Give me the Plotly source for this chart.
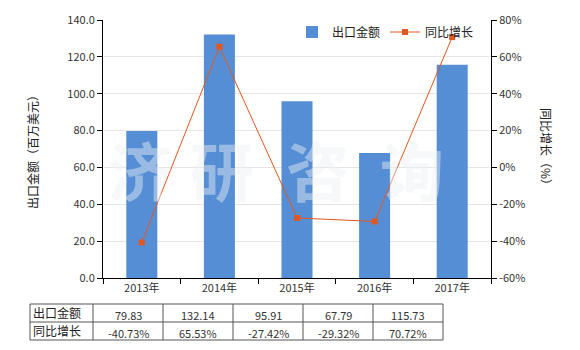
import plotly.graph_objects as go

years = ["2013年", "2014年", "2015年", "2016年", "2017年"]
export_value = [79.83, 132.14, 95.91, 67.79, 115.73]
yoy_growth = [-40.73, 65.53, -27.42, -29.32, 70.72]
row_labels = ["出口金额", "同比增长"]
left_ticks = [0, 20, 40, 60, 80, 100, 120, 140]
right_ticks = [-60, -40, -20, 0, 20, 40, 60, 80]

W, H = 580, 350
L, R, T, B = 103, 491, 20, 278
FONT = "Noto Sans CJK SC, Microsoft YaHei, sans-serif"

def px(x):
    return (x - L) / (R - L)

def py(y):
    return (B - y) / (B - T)

fig = go.Figure()
fig.add_trace(go.Bar(x=years, y=export_value, name="出口金额",
                     marker=dict(color="#558ED5", line=dict(width=0)),
                     width=0.4, yaxis="y"))
fig.add_trace(go.Scatter(x=years, y=yoy_growth, name="同比增长", mode="lines+markers",
                         line=dict(color="#E2571E", width=1),
                         marker=dict(symbol="square", size=6, color="#E2571E"),
                         yaxis="y2"))

fig.update_layout(
    width=W, height=H,
    margin=dict(l=L, r=W - R, t=T, b=H - B),
    paper_bgcolor="white", plot_bgcolor="white",
    font=dict(family=FONT, size=11, color="#333333"),
    showlegend=True,
    legend=dict(orientation="h", x=px(292), y=py(32), xanchor="left", yanchor="middle",
                bgcolor="rgba(0,0,0,0)", font=dict(size=12, color="#222222"),
                itemwidth=30, traceorder="normal"),
    xaxis=dict(type="category", showline=True, linecolor="black", linewidth=1,
               ticks="outside", tickson="boundaries", ticklen=5, tickcolor="black",
               showgrid=False, tickfont=dict(size=11, color="#333333")),
    yaxis=dict(range=[0, 140], tickvals=left_ticks,
               ticktext=[f"{v:.1f}" for v in left_ticks],
               showline=True, linecolor="black", linewidth=1,
               ticks="outside", ticklen=5, tickcolor="black",
               showgrid=True, gridcolor="#E5E5E5", gridwidth=1, zeroline=False,
               tickfont=dict(size=11, color="#333333")),
    yaxis2=dict(range=[-60, 80], tickvals=right_ticks,
                ticktext=[f"{v}%" for v in right_ticks],
                overlaying="y", side="right",
                showline=True, linecolor="black", linewidth=1,
                ticks="outside", ticklen=5, tickcolor="black",
                showgrid=False, zeroline=False,
                tickfont=dict(size=11, color="#333333")),
)

ann = []
# axis titles
ann.append(dict(text="出口金额（百万美元）", x=px(32), y=py(149), xref="paper", yref="paper",
                xanchor="center", yanchor="middle",
                showarrow=False, textangle=-90, font=dict(size=12, color="#222222")))
ann.append(dict(text="同比增长（%）", x=px(547), y=py(149), xref="paper", yref="paper",
                xanchor="center", yanchor="middle",
                showarrow=False, textangle=90, font=dict(size=12, color="#222222")))

# watermark
for ch, cx in zip("济研咨询", [140, 222, 318, 412]):
    ann.append(dict(text="<b>" + ch + "</b>", x=px(cx), y=py(168), xref="paper", yref="paper",
                    xanchor="center", yanchor="middle",
                    showarrow=False, font=dict(size=64, color="rgba(238,240,242,0.45)",
                                                family=FONT)))

# table
tbl_left, tbl_cols, tbl_right = 30, [93, 163, 233, 303, 373], 443
ty0, ty1, ty2 = 304, 322, 340
shapes = []
line_style = dict(color="#555555", width=1)
for yy in (ty0, ty1, ty2):
    shapes.append(dict(type="line", xref="paper", yref="paper",
                       x0=px(tbl_left), x1=px(tbl_right), y0=py(yy), y1=py(yy), line=line_style))
for xx in [tbl_left] + tbl_cols + [tbl_right]:
    shapes.append(dict(type="line", xref="paper", yref="paper",
                       x0=px(xx), x1=px(xx), y0=py(ty0), y1=py(ty2), line=line_style))

rows = [[f"{v:.2f}" for v in export_value], [f"{v:.2f}%" for v in yoy_growth]]
row_centers = [(ty0 + ty1) / 2 + 2, (ty1 + ty2) / 2 + 2]
col_edges = tbl_cols + [tbl_right]
for r, (lab, vals) in enumerate(zip(row_labels, rows)):
    ann.append(dict(text=lab, x=px(tbl_left + 1), y=py(row_centers[r] - 3), xref="paper", yref="paper",
                    xanchor="left", yanchor="middle",
                    showarrow=False, font=dict(size=12, color="#222222")))
    for i, v in enumerate(vals):
        cx = (col_edges[i] + col_edges[i + 1]) / 2
        ann.append(dict(text=v, x=px(cx), y=py(row_centers[r]), xref="paper", yref="paper",
                        xanchor="center", yanchor="middle",
                        showarrow=False, font=dict(size=11, color="#333333")))

fig.update_layout(annotations=ann, shapes=shapes)
fig.write_html("out.html")
